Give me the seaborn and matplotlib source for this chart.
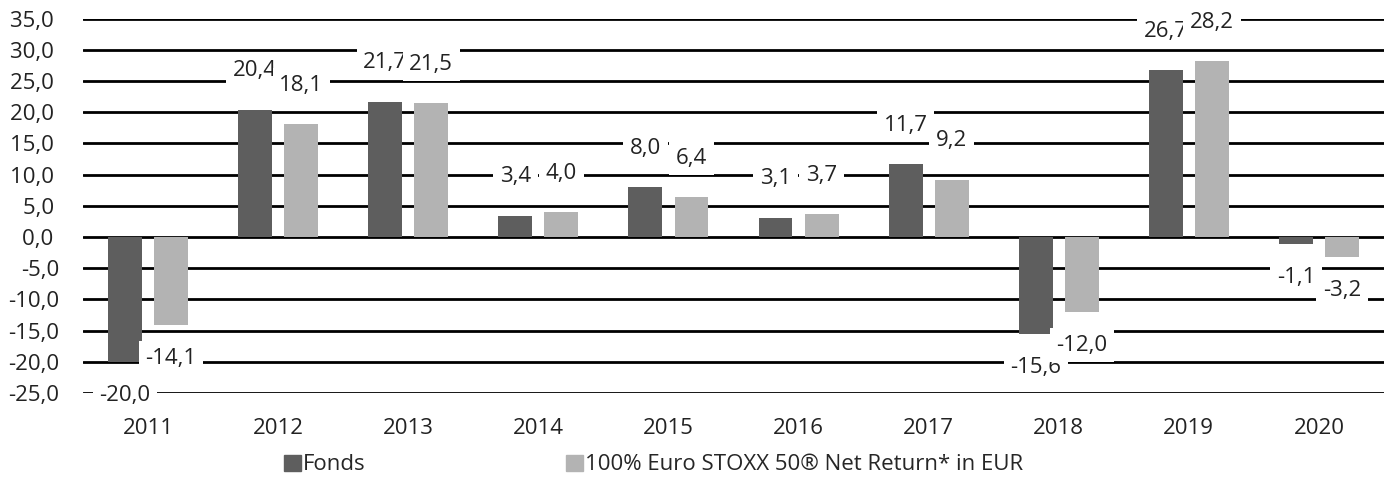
import pandas as pd
import matplotlib.pyplot as plt
import seaborn as sns
from matplotlib.patches import Patch

# Yearly performance in %
years = ['2011', '2012', '2013', '2014', '2015', '2016', '2017', '2018', '2019', '2020']
fonds = [-20.0, 20.4, 21.7, 3.4, 8.0, 3.1, 11.7, -15.6, 26.7, -1.1]
benchmark = [-14.1, 18.1, 21.5, 4.0, 6.4, 3.7, 9.2, -12.0, 28.2, -3.2]
series_names = ['Fonds', '100% Euro STOXX 50® Net Return* in EUR']
yticks = [-25, -20, -15, -10, -5, 0, 5, 10, 15, 20, 25, 30, 35]

colors = ['#5e5e5e', '#b3b3b3']

df = pd.DataFrame({
    'year': years * 2,
    'value': fonds + benchmark,
    'series': [series_names[0]] * len(years) + [series_names[1]] * len(years),
})

sns.set_style('white')
plt.rcParams['font.family'] = ['Open Sans', 'DejaVu Sans']
fs = 16

fig = plt.figure(figsize=(13.92, 4.79), dpi=100)
ax = fig.add_axes([83 / 1392, 1 - 393 / 479, (1384 - 83) / 1392, (393 - 18.7) / 479])

sns.barplot(data=df, x='year', y='value', hue='series', palette=colors,
            width=0.708, gap=0.265, ax=ax, legend=False, zorder=3,
            linewidth=0, saturation=1)

ax.set_ylim(-25, 35)
ax.set_xlim(-0.5, 9.5)
ax.set_yticks(yticks)
ax.set_yticklabels([f'{t:.1f}'.replace('.', ',') + ('' if t < 0 else ' ') for t in yticks])
ax.yaxis.grid(True, color='black', linewidth=2, zorder=1)
ax.set_axisbelow(True)
for s in ax.spines.values():
    s.set_visible(False)
ax.tick_params(axis='both', length=0, labelsize=fs, colors='#222222')
ax.tick_params(axis='y', pad=17)
ax.tick_params(axis='x', pad=18)
ax.set_xlabel('')
ax.set_ylabel('')

# value labels with white boxes
for cont in ax.containers:
    for bar in cont:
        h = bar.get_height()
        val = h if bar.get_y() == 0 else bar.get_y()
        x = bar.get_x() + bar.get_width() / 2
        off = 28 if val >= 0 else -24
        ax.annotate(f'{val:.1f}'.replace('.', ','), (x, val), xytext=(0, off),
                    textcoords='offset points', ha='center', va='center',
                    fontsize=fs, color='#222222', zorder=5,
                    bbox=dict(boxstyle='square,pad=0.3', fc='white', ec='none'))

handles = [Patch(color=c, label=n) for c, n in zip(colors, series_names)]
fig.legend(handles=handles, loc='center left', bbox_to_anchor=(284 / 1392, 1 - 465 / 479),
           ncol=2, frameon=False, fontsize=fs, borderpad=0, borderaxespad=0,
           handlelength=0.75, handleheight=0.75, handletextpad=0.12, columnspacing=9.0)

plt.savefig('out.png', dpi=100)
